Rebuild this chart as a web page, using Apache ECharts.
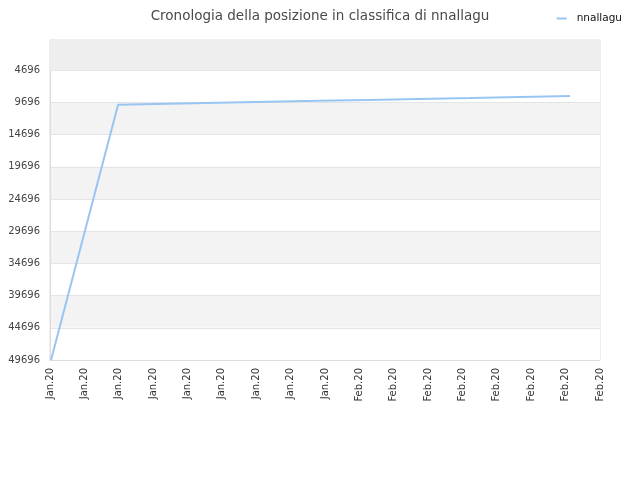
<!DOCTYPE html>
<html>
<head>
<meta charset="utf-8">
<script src="https://cdn.jsdelivr.net/npm/echarts@6/dist/echarts.min.js"></script>
<style>html,body{margin:0;padding:0;background:#fff;}#c{width:640px;height:480px;}</style>
</head>
<body>
<div id="c"></div>
<script>
var xLabels = ['Jan.20','Jan.20','Jan.20','Jan.20','Jan.20','Jan.20','Jan.20','Jan.20','Jan.20','Feb.20','Feb.20','Feb.20','Feb.20','Feb.20','Feb.20','Feb.20','Feb.20'];
var yTicks = [4696, 9696, 14696, 19696, 24696, 29696, 34696, 39696, 44696, 49696];
var pointX = [0.03, 1.98, 3.43, 4.89, 6.34, 7.80, 9.28, 10.73, 12.22, 13.67, 15.13];
var ranks = [49696, 10049, 9894, 9739, 9584, 9428, 9300, 9163, 9008, 8853, 8697];
var seriesName = 'nnallagu';

var chart = echarts.init(document.getElementById('c'), null, {renderer: 'canvas'});
var data = pointX.map(function (x, i) { return [x, ranks[i]]; });
chart.setOption({
  animation: false,
  backgroundColor: '#ffffff',
  title: {
    text: 'Cronologia della posizione in classifica di nnallagu',
    left: 'center',
    top: 4,
    textStyle: {fontFamily: 'DejaVu Sans', fontSize: 13.5, fontWeight: 'normal', color: '#4a4a4a'}
  },
  legend: {
    right: 13,
    top: 8,
    itemWidth: 10,
    itemHeight: 2,
    icon: 'rect',
    textStyle: {fontFamily: 'DejaVu Sans', fontSize: 10.5, color: '#111111', padding: [0, 0, 0, 5]},
    data: [seriesName]
  },
  grid: {
    left: 50, right: 40, top: 40, bottom: 120,
    show: true, borderColor: '#dddddd', borderWidth: 1
  },
  xAxis: {
    type: 'value',
    min: 0, max: 16, interval: 1,
    axisLine: {show: true, lineStyle: {color: '#dddddd'}},
    axisTick: {show: false},
    splitLine: {show: false},
    axisLabel: {
      rotate: 90,
      fontFamily: 'DejaVu Sans', fontSize: 10, color: '#333333', margin: 8,
      formatter: function (v) { return xLabels[Math.round(v)] || ''; }
    }
  },
  yAxis: {
    type: 'value',
    inverse: true,
    min: 1, max: 49696,
    axisLine: {show: true, lineStyle: {color: '#dddddd'}},
    axisTick: {show: false, customValues: yTicks},
    axisLabel: {
      customValues: yTicks,
      fontFamily: 'DejaVu Sans', fontSize: 10, color: '#444444', margin: 10,
      formatter: function (v) { return String(v); }
    },
    splitLine: {show: true, lineStyle: {color: '#e4e4e4'}},
    splitArea: {show: true, areaStyle: {color: ['#ffffff', '#f3f3f3']}}
  },
  series: [{
    name: seriesName,
    type: 'line',
    data: data,
    showSymbol: false,
    symbol: 'none',
    lineStyle: {color: '#99c5f2', width: 2},
    itemStyle: {color: '#99c5f2'},
    markArea: {
      silent: true,
      itemStyle: {color: '#eeeeee'},
      data: [[{yAxis: 1}, {yAxis: yTicks[0]}]]
    }
  }]
});
</script>
</body>
</html>
